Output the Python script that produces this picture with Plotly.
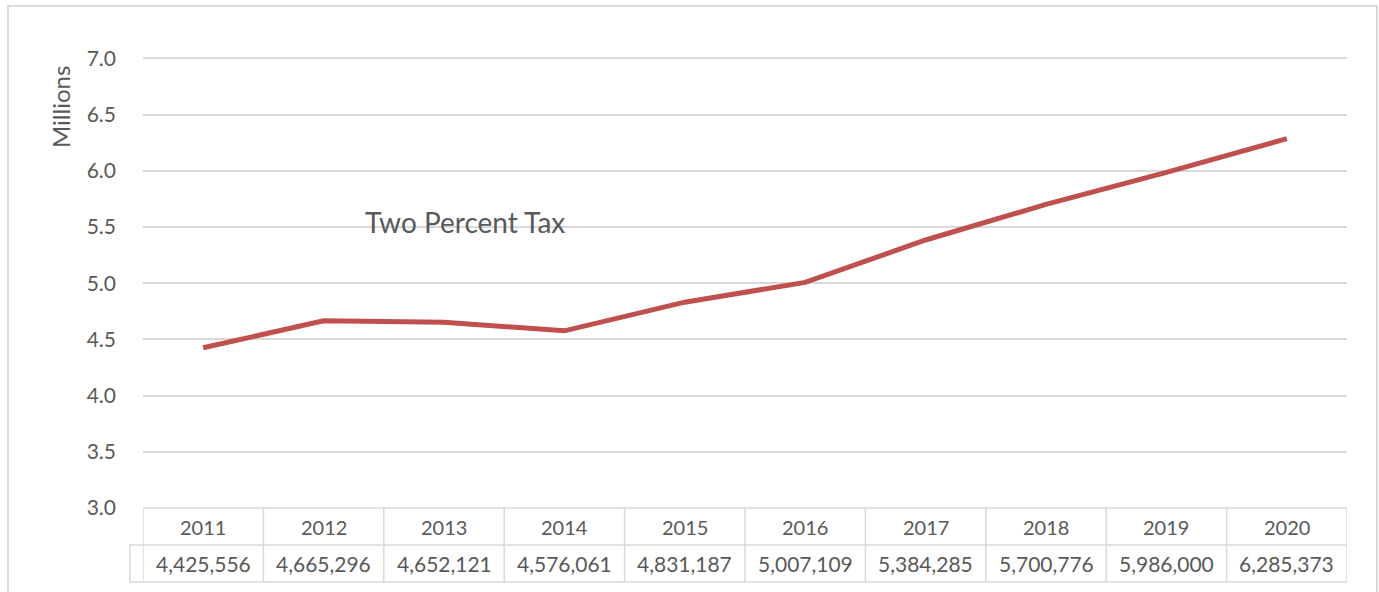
import plotly.graph_objects as go

years = ["2011", "2012", "2013", "2014", "2015", "2016", "2017", "2018", "2019", "2020"]
revenue = [4425556, 4665296, 4652121, 4576061, 4831187, 5007109, 5384285, 5700776, 5986000, 6285373]
y_ticks = [3.0, 3.5, 4.0, 4.5, 5.0, 5.5, 6.0, 6.5, 7.0]
series_name = "Two Percent Tax"

millions = [v / 1e6 for v in revenue]

GRID = "#D9D9D9"
TXT = "#595959"
FONT = "Lato, Calibri, Carlito, sans-serif"

W, H = 1379, 592
ml, mr, mt, mb = 143, 32, 55, 84
plot_h = H - mt - mb
plot_w = W - ml - mr
row_h = 37 / plot_h  # table row height in paper units

fig = go.Figure()
fig.add_trace(go.Scatter(
    x=years, y=millions, mode="lines", name=series_name,
    line=dict(color="#C0504D", width=5), hoverinfo="x+y",
))

shapes = []
annotations = []

# Table horizontal lines
for yy in [0, -row_h, -2 * row_h]:
    shapes.append(dict(type="line", xref="x", yref="paper", x0=-0.5, x1=len(years) - 0.5,
                       y0=yy, y1=yy, line=dict(color=GRID, width=1.5), layer="below"))
# Table vertical lines
for i in range(len(years) + 1):
    shapes.append(dict(type="line", xref="x", yref="paper", x0=i - 0.5, x1=i - 0.5,
                       y0=0, y1=-2 * row_h, line=dict(color=GRID, width=1.5), layer="below"))
# Legend-key stub cell left of the value row
stub = -13 / plot_w
shapes.append(dict(type="path", xref="paper", yref="paper",
                   path=f"M 0 {-row_h} L {stub} {-row_h} L {stub} {-2*row_h} L 0 {-2*row_h}",
                   line=dict(color=GRID, width=1.5)))
# Outer chart border
shapes.append(dict(type="rect", xref="paper", yref="paper",
                   x0=(8 - ml) / plot_w, x1=(1377 - ml) / plot_w,
                   y0=-0.3, y1=(H - mb - 6) / plot_h,
                   line=dict(color="#D9D9D9", width=2), fillcolor="rgba(0,0,0,0)", layer="below"))

for i, (yr, v) in enumerate(zip(years, revenue)):
    annotations.append(dict(x=i, y=-row_h / 2, xref="x", yref="paper", text=yr, showarrow=False,
                            font=dict(family=FONT, size=20, color=TXT),
                            xanchor="center", yanchor="middle"))
    annotations.append(dict(x=i, y=-1.5 * row_h, xref="x", yref="paper", text=f"{v:,}", showarrow=False,
                            font=dict(family=FONT, size=21, color=TXT),
                            xanchor="center", yanchor="middle"))

annotations.append(dict(x=(465 - ml) / plot_w, y=5.54, xref="paper", yref="y", text=series_name,
                        showarrow=False, xanchor="center", yanchor="middle",
                        font=dict(family=FONT, size=28, color=TXT)))
annotations.append(dict(x=(60 - ml) / plot_w, y=(H - mb - 107) / plot_h, xref="paper", yref="paper",
                        text="Millions", textangle=-90, showarrow=False,
                        xanchor="center", yanchor="middle",
                        font=dict(family=FONT, size=24, color=TXT)))

fig.update_layout(
    width=W, height=H, autosize=False,
    margin=dict(l=ml, r=mr, t=mt, b=mb),
    paper_bgcolor="white", plot_bgcolor="white",
    showlegend=False,
    shapes=shapes, annotations=annotations,
    xaxis=dict(type="category", range=[-0.5, len(years) - 0.5], showticklabels=False,
               showgrid=False, zeroline=False, showline=False, fixedrange=True),
    yaxis=dict(range=[3.0, 7.03], tickvals=y_ticks, ticktext=[f"{t:.1f}" for t in y_ticks],
               showgrid=True, gridcolor=GRID, gridwidth=1.5, zeroline=False, showline=False,
               tickfont=dict(family=FONT, size=21, color=TXT), ticklabelstandoff=26,
               fixedrange=True),
)

fig.write_html("out.html")
